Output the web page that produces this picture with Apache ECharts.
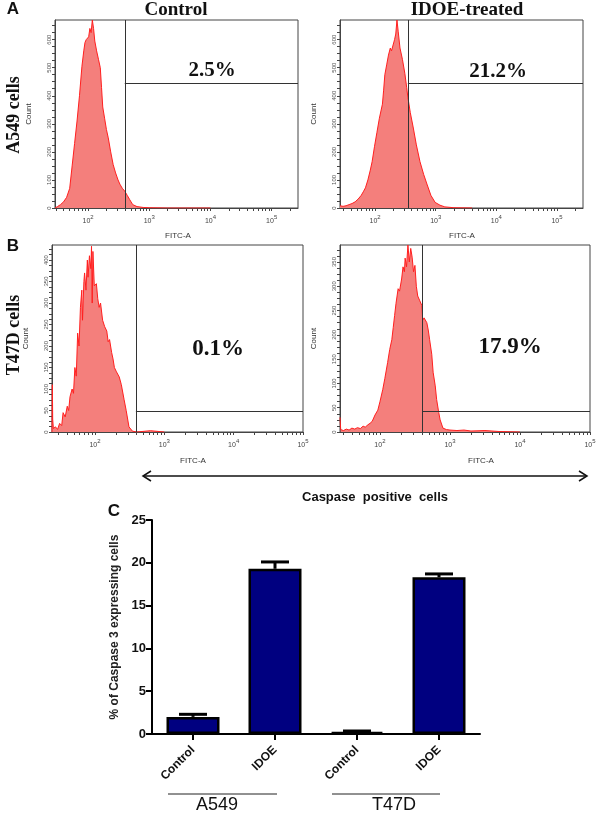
<!DOCTYPE html>
<html><head><meta charset="utf-8">
<script src="https://cdn.jsdelivr.net/npm/echarts@6/dist/echarts.min.js"></script>
<style>html,body{margin:0;padding:0;background:#fff}#c{width:600px;height:817px}</style>
</head><body><div id="c"></div>
<script>
// ---------- Histogram data (x = log10 FITC-A, y = count) ----------
const a549CtrlLog = [1.46,1.50,1.55,1.60,1.65,1.70,1.74,1.78,1.82,1.86,1.90,1.93,1.95,1.97,1.99,2.01,2.03,2.05,2.07,2.09,2.11,2.14,2.17,2.20,2.22,2.24,2.27,2.30,2.33,2.37,2.41,2.45,2.49,2.52,2.56,2.60,2.62,2.64,2.68,2.73,2.80,2.90,3.00,3.30,4.00];
const a549CtrlCount = [0,5,12,22,38,70,150,230,310,400,505,560,590,600,595,610,640,625,670,640,595,560,530,500,430,360,320,280,250,200,155,125,100,85,70,60,55,45,30,12,5,2,1,0,0];

const a549IdoeLog = [1.42,1.47,1.52,1.57,1.62,1.67,1.72,1.77,1.81,1.84,1.88,1.92,1.95,1.99,2.03,2.07,2.12,2.14,2.16,2.19,2.22,2.25,2.27,2.30,2.32,2.34,2.36,2.38,2.41,2.45,2.49,2.52,2.54,2.58,2.63,2.68,2.74,2.80,2.86,2.92,2.99,3.07,3.15,3.30,3.60];
const a549IdoeCount = [8,6,8,12,16,22,32,45,60,72,100,135,165,220,270,320,370,420,475,510,545,570,560,565,600,620,670,630,570,530,480,430,395,340,285,225,165,120,82,45,20,10,4,1,0];

const t47dCtrlLog = [1.38,1.385,1.39,1.40,1.43,1.46,1.49,1.52,1.54,1.57,1.60,1.62,1.64,1.67,1.69,1.71,1.73,1.75,1.77,1.79,1.81,1.82,1.84,1.85,1.87,1.89,1.90,1.92,1.94,1.95,1.96,1.97,1.99,2.02,2.04,2.06,2.08,2.11,2.14,2.17,2.19,2.21,2.24,2.26,2.28,2.31,2.35,2.38,2.42,2.45,2.49,2.54,2.60,2.80,3.00];
const t47dCtrlCount = [0,110,30,8,12,6,20,15,45,35,60,50,82,100,90,150,130,230,200,290,330,260,350,370,330,400,360,410,380,432,300,420,340,345,310,290,300,260,245,235,210,215,185,170,150,140,128,110,75,50,12,2,0,3,0];

const t47dIdoeLog = [1.43,1.44,1.48,1.52,1.56,1.60,1.64,1.68,1.72,1.76,1.79,1.83,1.86,1.89,1.93,1.97,2.00,2.04,2.07,2.11,2.14,2.17,2.19,2.21,2.23,2.26,2.28,2.31,2.33,2.35,2.36,2.38,2.40,2.42,2.44,2.46,2.48,2.50,2.52,2.54,2.57,2.60,2.61,2.63,2.67,2.69,2.71,2.74,2.76,2.79,2.81,2.84,2.86,2.90,2.95,3.00,3.10,3.20,3.30,3.50,3.70,4.00];
const t47dIdoeCount = [30,5,3,6,4,8,6,9,7,12,10,15,18,22,35,45,62,87,110,143,170,190,215,240,265,295,290,315,340,330,358,340,385,350,378,360,330,343,300,280,270,260,230,235,225,210,190,160,123,95,67,40,25,8,5,4,3,4,2,3,1,0];

// gates (log10 FITC position, count level) and percentages
const gateLog = [2.60, 2.54, 2.59, 2.61];
const gateCount = [446, 446, 49, 42];
const gatePercent = ['2.5%', '21.2%', '0.1%', '17.9%'];

// axis ticks
const fitcTicks = [2, 3, 4, 5];
const fitcTickExp = ['2', '3', '4', '5'];
const countTicksA = [0, 100, 200, 300, 400, 500, 600];
const countTicksBL = [0, 50, 100, 150, 200, 250, 300, 350, 400];
const countTicksBR = [0, 50, 100, 150, 200, 250, 300, 350];

// ---------- Bar chart data ----------
const barCategories = ['Control', 'IDOE', 'Control', 'IDOE'];
const barValues = [2.0, 19.3, 0.25, 18.3];
const barErrors = [0.3, 0.8, 0.1, 0.4];
const barGroups = ['A549', 'T47D'];

// ---------- layout ----------
const panels = [
  {grid:{left:55, top:20, width:243, height:188}, xmin:1.46, xmax:5.43, ymax:670, minorStep:25, ticks:countTicksA, xs:a549CtrlLog, ys:a549CtrlCount},
  {grid:{left:340, top:20, width:243, height:188}, xmin:1.42, xmax:5.43, ymax:670, minorStep:25, ticks:countTicksA, xs:a549IdoeLog, ys:a549IdoeCount},
  {grid:{left:52, top:245, width:251, height:187}, xmin:1.38, xmax:5.0, ymax:435, minorStep:12.5, ticks:countTicksBL, xs:t47dCtrlLog, ys:t47dCtrlCount},
  {grid:{left:340, top:245, width:250, height:187}, xmin:1.43, xmax:5.0, ymax:385, minorStep:12.5, ticks:countTicksBR, xs:t47dIdoeLog, ys:t47dIdoeCount}
];

const logMinor = [];
for (let d = 1; d <= 5; d++) for (let k = 1; k <= 9; k++) logMinor.push(Math.log10(k * Math.pow(10, d)));

const grids = [], xAxes = [], yAxes = [], series = [];
panels.forEach((p, i) => {
  grids.push(Object.assign({show:true, borderColor:'#444', borderWidth:1, backgroundColor:'transparent'}, p.grid));
  xAxes.push({
    type:'value', gridIndex:i, min:p.xmin, max:p.xmax,
    axisLine:{show:true, onZero:false, lineStyle:{color:'#444', width:1}},
    axisTick:{show:true, customValues:logMinor.filter(v => v >= p.xmin && v <= p.xmax), length:3, lineStyle:{color:'#444'}},
    axisLabel:{
      customValues:fitcTicks,
      formatter:v => '{b|10}{s|' + fitcTickExp[fitcTicks.indexOf(Math.round(v))] + '}',
      margin:6,
      rich:{
        b:{fontSize:7, color:'#444', fontFamily:'Liberation Sans', verticalAlign:'bottom'},
        s:{fontSize:6, color:'#444', fontFamily:'Liberation Sans', verticalAlign:'top', padding:[0,0,5,0]}
      }
    },
    splitLine:{show:false}
  });
  const minor = [];
  for (let v = 0; v <= p.ymax; v += p.minorStep) minor.push(v);
  yAxes.push({
    type:'value', gridIndex:i, min:0, max:p.ymax,
    axisLine:{show:true, lineStyle:{color:'#444', width:1}},
    axisTick:{show:true, customValues:minor, length:3, lineStyle:{color:'#444'}},
    axisLabel:{customValues:p.ticks, rotate:90, fontSize:6, color:'#555', margin:3, fontFamily:'Liberation Sans'},
    splitLine:{show:false},
    name:'Count', nameLocation:'middle', nameGap:22,
    nameTextStyle:{fontSize:8, color:'#333', fontFamily:'Liberation Sans'}
  });
  series.push({
    type:'line', xAxisIndex:i, yAxisIndex:i,
    data:p.xs.map((x, j) => [x, p.ys[j]]),
    showSymbol:false, smooth:false,
    lineStyle:{color:'#ff1f1f', width:1},
    areaStyle:{color:'#f47f7c', opacity:1},
    markLine:{
      silent:true, symbol:['none','none'], label:{show:false},
      lineStyle:{color:'#333', width:1, type:'solid'},
      data:[
        [{coord:[gateLog[i], 0]}, {coord:[gateLog[i], p.ymax]}],
        [{coord:[gateLog[i], gateCount[i]]}, {coord:[p.xmax, gateCount[i]]}]
      ]
    }
  });
});

// bar chart grid
grids.push({left:152, top:520, width:328, height:214, show:false});
xAxes.push({
  type:'category', gridIndex:4, data:barCategories,
  axisLine:{show:true, lineStyle:{color:'#000', width:2}},
  axisTick:{show:true, alignWithLabel:true, length:6, lineStyle:{color:'#000', width:2}},
  axisLabel:{rotate:45, fontSize:12, fontWeight:'bold', color:'#111', margin:14, fontFamily:'Liberation Sans'}
});
yAxes.push({
  type:'value', gridIndex:4, min:0, max:25, interval:5,
  axisLine:{show:true, lineStyle:{color:'#000', width:2}},
  axisTick:{show:true, length:6, lineStyle:{color:'#000', width:2}},
  axisLabel:{fontSize:13, fontWeight:'bold', color:'#111', margin:6, fontFamily:'Liberation Sans'},
  splitLine:{show:false},
  name:'% of Caspase 3 expressing cells', nameLocation:'middle', nameGap:28,
  nameTextStyle:{fontSize:12, fontWeight:'bold', color:'#222', fontFamily:'Liberation Sans'}
});
series.push({
  type:'bar', xAxisIndex:4, yAxisIndex:4, data:barValues, barWidth:53,
  itemStyle:{color:'#000080', borderColor:'#000', borderWidth:2.5}
});
series.push({
  type:'custom', xAxisIndex:4, yAxisIndex:4, z:5,
  data:barValues.map((v, i) => [i, v, barErrors[i]]),
  encode:{x:0, y:1},
  renderItem:(params, api) => {
    const i = api.value(0), v = api.value(1), e = api.value(2);
    const base = api.coord([i, v]), top = api.coord([i, v + e]);
    const hw = 14;
    return {type:'group', children:[
      {type:'line', shape:{x1:base[0], y1:base[1], x2:top[0], y2:top[1]}, style:{stroke:'#000', lineWidth:3}},
      {type:'line', shape:{x1:top[0]-hw, y1:top[1], x2:top[0]+hw, y2:top[1]}, style:{stroke:'#000', lineWidth:3}}
    ]};
  }
});

// ---------- annotations ----------
const serif = '"Liberation Serif", "DejaVu Serif", serif';
const sans = '"Liberation Sans", Arial, sans-serif';
function txt(x, y, text, font, extra, fill) {
  return Object.assign({type:'text', x:x, y:y, z:100, style:{text:text, font:font, fill:fill || '#111', align:'center', verticalAlign:'middle'}}, extra || {});
}
const graphics = [
  txt(13, 9, 'A', 'bold 17px ' + sans),
  txt(13, 246, 'B', 'bold 17px ' + sans),
  txt(114, 511, 'C', 'bold 17px ' + sans),
  txt(176, 10, 'Control', 'bold 19px ' + serif),
  txt(467, 10, 'IDOE-treated', 'bold 19px ' + serif),
  txt(14, 115, 'A549 cells', 'bold 18px ' + serif, {rotation:Math.PI/2}),
  txt(14, 335, 'T47D cells', 'bold 18px ' + serif, {rotation:Math.PI/2}),
  txt(212, 71, gatePercent[0], 'bold 21px ' + serif),
  txt(498, 72, gatePercent[1], 'bold 21px ' + serif),
  txt(218, 349, gatePercent[2], 'bold 23px ' + serif),
  txt(510, 347, gatePercent[3], 'bold 23px ' + serif),
  txt(178, 236, 'FITC-A', '8px ' + sans, null, '#333'),
  txt(462, 236, 'FITC-A', '8px ' + sans, null, '#333'),
  txt(193, 461, 'FITC-A', '8px ' + sans, null, '#333'),
  txt(481, 461, 'FITC-A', '8px ' + sans, null, '#333'),
  {type:'line', shape:{x1:143, y1:476, x2:587, y2:476}, style:{stroke:'#111', lineWidth:1.5}},
  {type:'polyline', shape:{points:[[151,471],[143,476],[151,481]]}, style:{stroke:'#111', lineWidth:1.5, fill:null}},
  {type:'polyline', shape:{points:[[579,471],[587,476],[579,481]]}, style:{stroke:'#111', lineWidth:1.5, fill:null}},
  txt(375, 497, 'Caspase  positive  cells', 'bold 13px ' + sans),
  {type:'line', shape:{x1:168, y1:794, x2:277, y2:794}, style:{stroke:'#222', lineWidth:1}},
  {type:'line', shape:{x1:332, y1:794, x2:440, y2:794}, style:{stroke:'#222', lineWidth:1}},
  txt(217, 805, barGroups[0], '18px ' + sans),
  txt(394, 805, barGroups[1], '18px ' + sans)
];

const chart = echarts.init(document.getElementById('c'), null, {renderer:'canvas'});
chart.setOption({
  animation:false,
  backgroundColor:'#fff',
  grid:grids, xAxis:xAxes, yAxis:yAxes, series:series,
  graphic:graphics
});
</script>
</body></html>
